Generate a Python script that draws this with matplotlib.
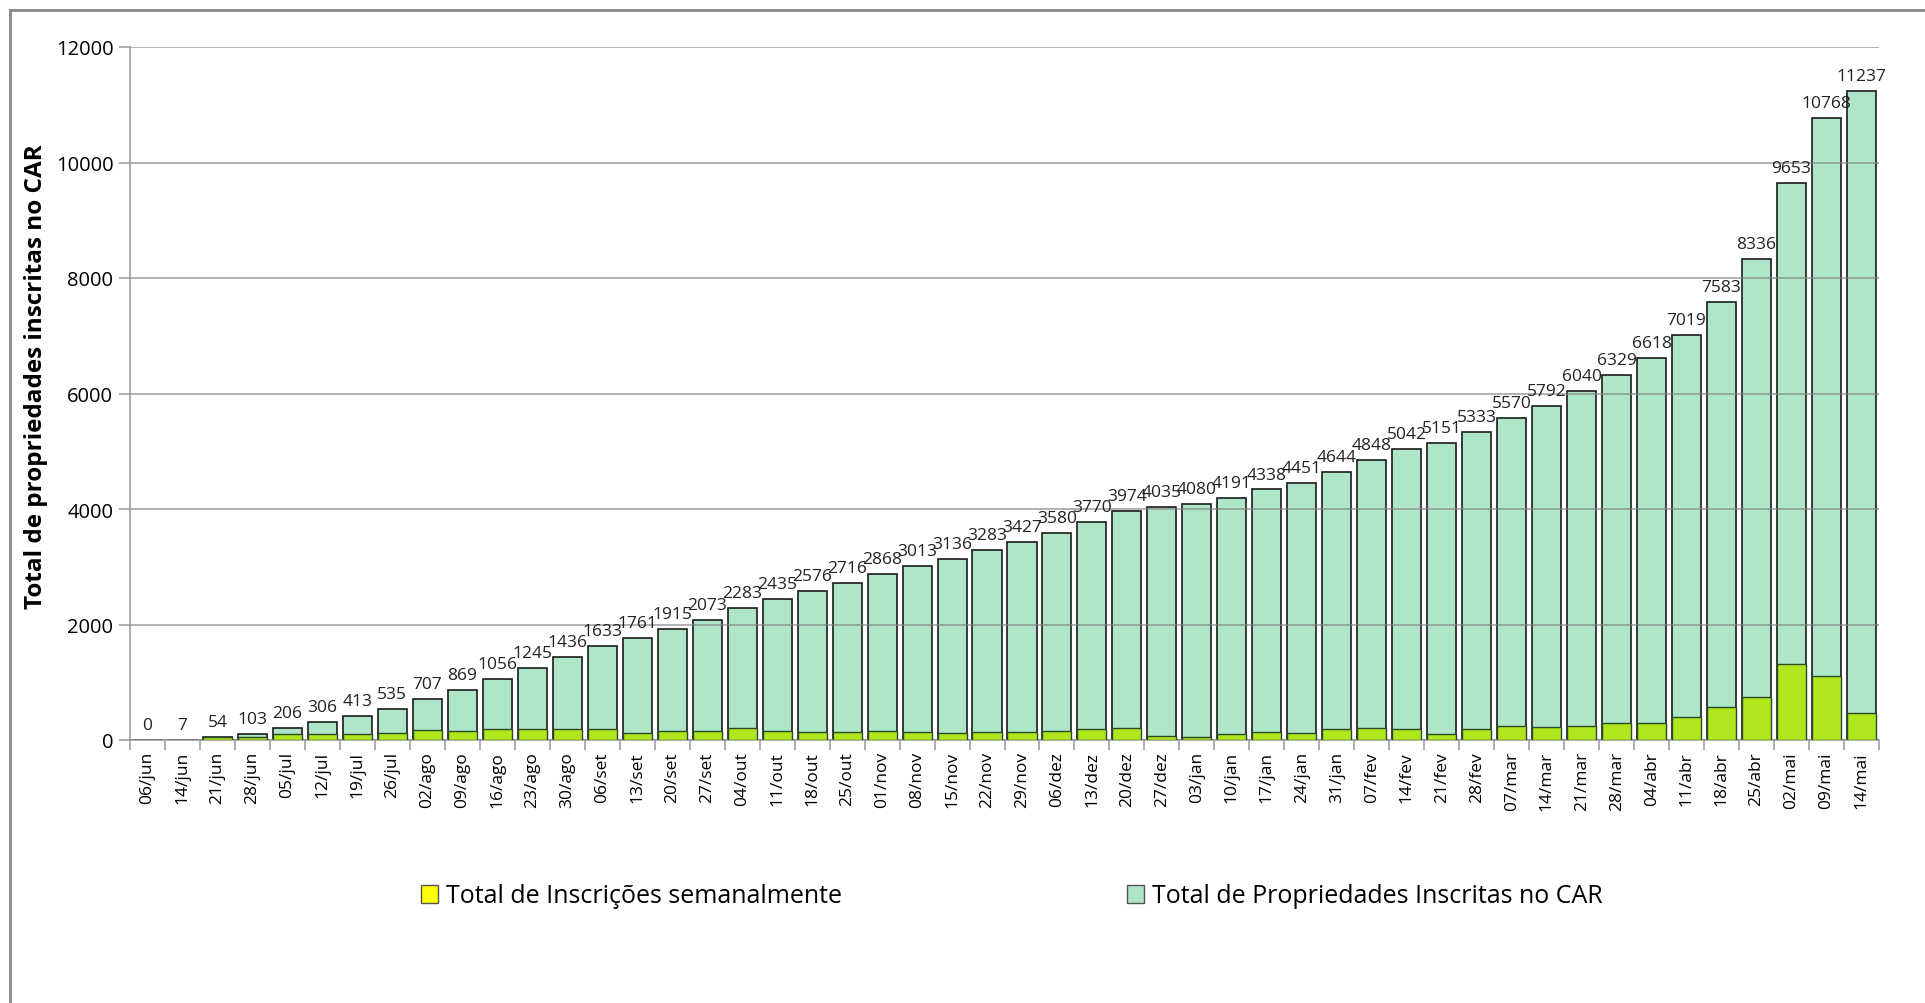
import matplotlib
matplotlib.use("Agg")
import matplotlib.pyplot as plt
from matplotlib.patches import Patch
from matplotlib.lines import Line2D
import numpy as np

semanas = ["06/jun", "14/jun", "21/jun", "28/jun", "05/jul", "12/jul", "19/jul", "26/jul",
           "02/ago", "09/ago", "16/ago", "23/ago", "30/ago", "06/set", "13/set", "20/set",
           "27/set", "04/out", "11/out", "18/out", "25/out", "01/nov", "08/nov", "15/nov",
           "22/nov", "29/nov", "06/dez", "13/dez", "20/dez", "27/dez", "03/jan", "10/jan",
           "17/jan", "24/jan", "31/jan", "07/fev", "14/fev", "21/fev", "28/fev", "07/mar",
           "14/mar", "21/mar", "28/mar", "04/abr", "11/abr", "18/abr", "25/abr", "02/mai",
           "09/mai", "14/mai"]

total_car = [0, 7, 54, 103, 206, 306, 413, 535, 707, 869, 1056, 1245, 1436, 1633, 1761,
             1915, 2073, 2283, 2435, 2576, 2716, 2868, 3013, 3136, 3283, 3427, 3580, 3770,
             3974, 4035, 4080, 4191, 4338, 4451, 4644, 4848, 5042, 5151, 5333, 5570, 5792,
             6040, 6329, 6618, 7019, 7583, 8336, 9653, 10768, 11237]

semanal = [0, 7, 47, 49, 103, 100, 107, 122, 172, 162, 187, 189, 191, 197, 128, 154, 158,
           210, 152, 141, 140, 152, 145, 123, 147, 144, 153, 190, 204, 61, 45, 111, 147,
           113, 193, 204, 194, 109, 182, 237, 222, 248, 289, 289, 401, 564, 753, 1317,
           1115, 469]

plt.rcParams['font.family'] = ['Open Sans', 'DejaVu Sans']

fig = plt.figure(figsize=(19.25, 10.04), dpi=100)
ax = fig.add_axes([130 / 1925, 1 - 741 / 1004, 1749 / 1925, 693 / 1004])

x = np.arange(len(semanas))
ax.bar(x, total_car, width=0.83, color='#b0e6c8', edgecolor='#1a1a1a', linewidth=1.2, zorder=2)
ax.bar(x, semanal, width=0.83, color='#afe61c', edgecolor='#2a4a2a', linewidth=1.0, zorder=3)

for xi, v in zip(x, total_car):
    ax.annotate(str(v), (xi, v), xytext=(0, 5), textcoords='offset points',
                ha='center', va='bottom', fontsize=12.5, color='#222222', zorder=5)

ax.set_xlim(-0.5, len(semanas) - 0.5)
ax.set_ylim(0, 12000)
ax.set_yticks(range(0, 12001, 2000))
ax.yaxis.grid(True, color='#7f7f7f', linewidth=1.2, alpha=0.7, zorder=4)
ax.set_axisbelow(False)

ax.set_xticks(x)
ax.set_xticklabels(semanas, rotation=90, fontsize=12.5)
ax.set_xticks(np.arange(-0.5, len(semanas)), minor=True)
ax.tick_params(axis='x', which='major', length=0, pad=8)
ax.tick_params(axis='x', which='minor', length=7, color='#a0a0a0', width=1.2)
ax.tick_params(axis='y', length=8, color='#a0a0a0', width=1.2, labelsize=14.5, pad=4)

for s in ['top', 'right']:
    ax.spines[s].set_visible(False)
for s in ['left', 'bottom']:
    ax.spines[s].set_color('#a0a0a0')
    ax.spines[s].set_linewidth(1.2)

ax.set_ylabel('Total de propriedades inscritas no CAR', fontsize=17.5, fontweight='bold')
ax.yaxis.set_label_coords(-0.047, 0.525)

h1 = Patch(facecolor='#ffff00', edgecolor='#555555', label='Total de Inscrições semanalmente')
h2 = Patch(facecolor='#b0e6c8', edgecolor='#555555', label='Total de Propriedades Inscritas no CAR')
fig.legend(handles=[h1], loc='center left', bbox_to_anchor=(398 / 1925, 1 - 897 / 1004),
           frameon=False, fontsize=18, handlelength=0.7, handleheight=0.7, handletextpad=0.3)
fig.legend(handles=[h2], loc='center left', bbox_to_anchor=(1104 / 1925, 1 - 897 / 1004),
           frameon=False, fontsize=18, handlelength=0.7, handleheight=0.7, handletextpad=0.3)

# moldura da figura
fig.add_artist(Line2D([10 / 1925, 10 / 1925], [0, 1 - 11 / 1004], transform=fig.transFigure,
                      color='#888888', linewidth=2))
fig.add_artist(Line2D([10 / 1925, 1], [1 - 11 / 1004, 1 - 11 / 1004], transform=fig.transFigure,
                      color='#888888', linewidth=2))

fig.savefig('out.png', dpi=100)
